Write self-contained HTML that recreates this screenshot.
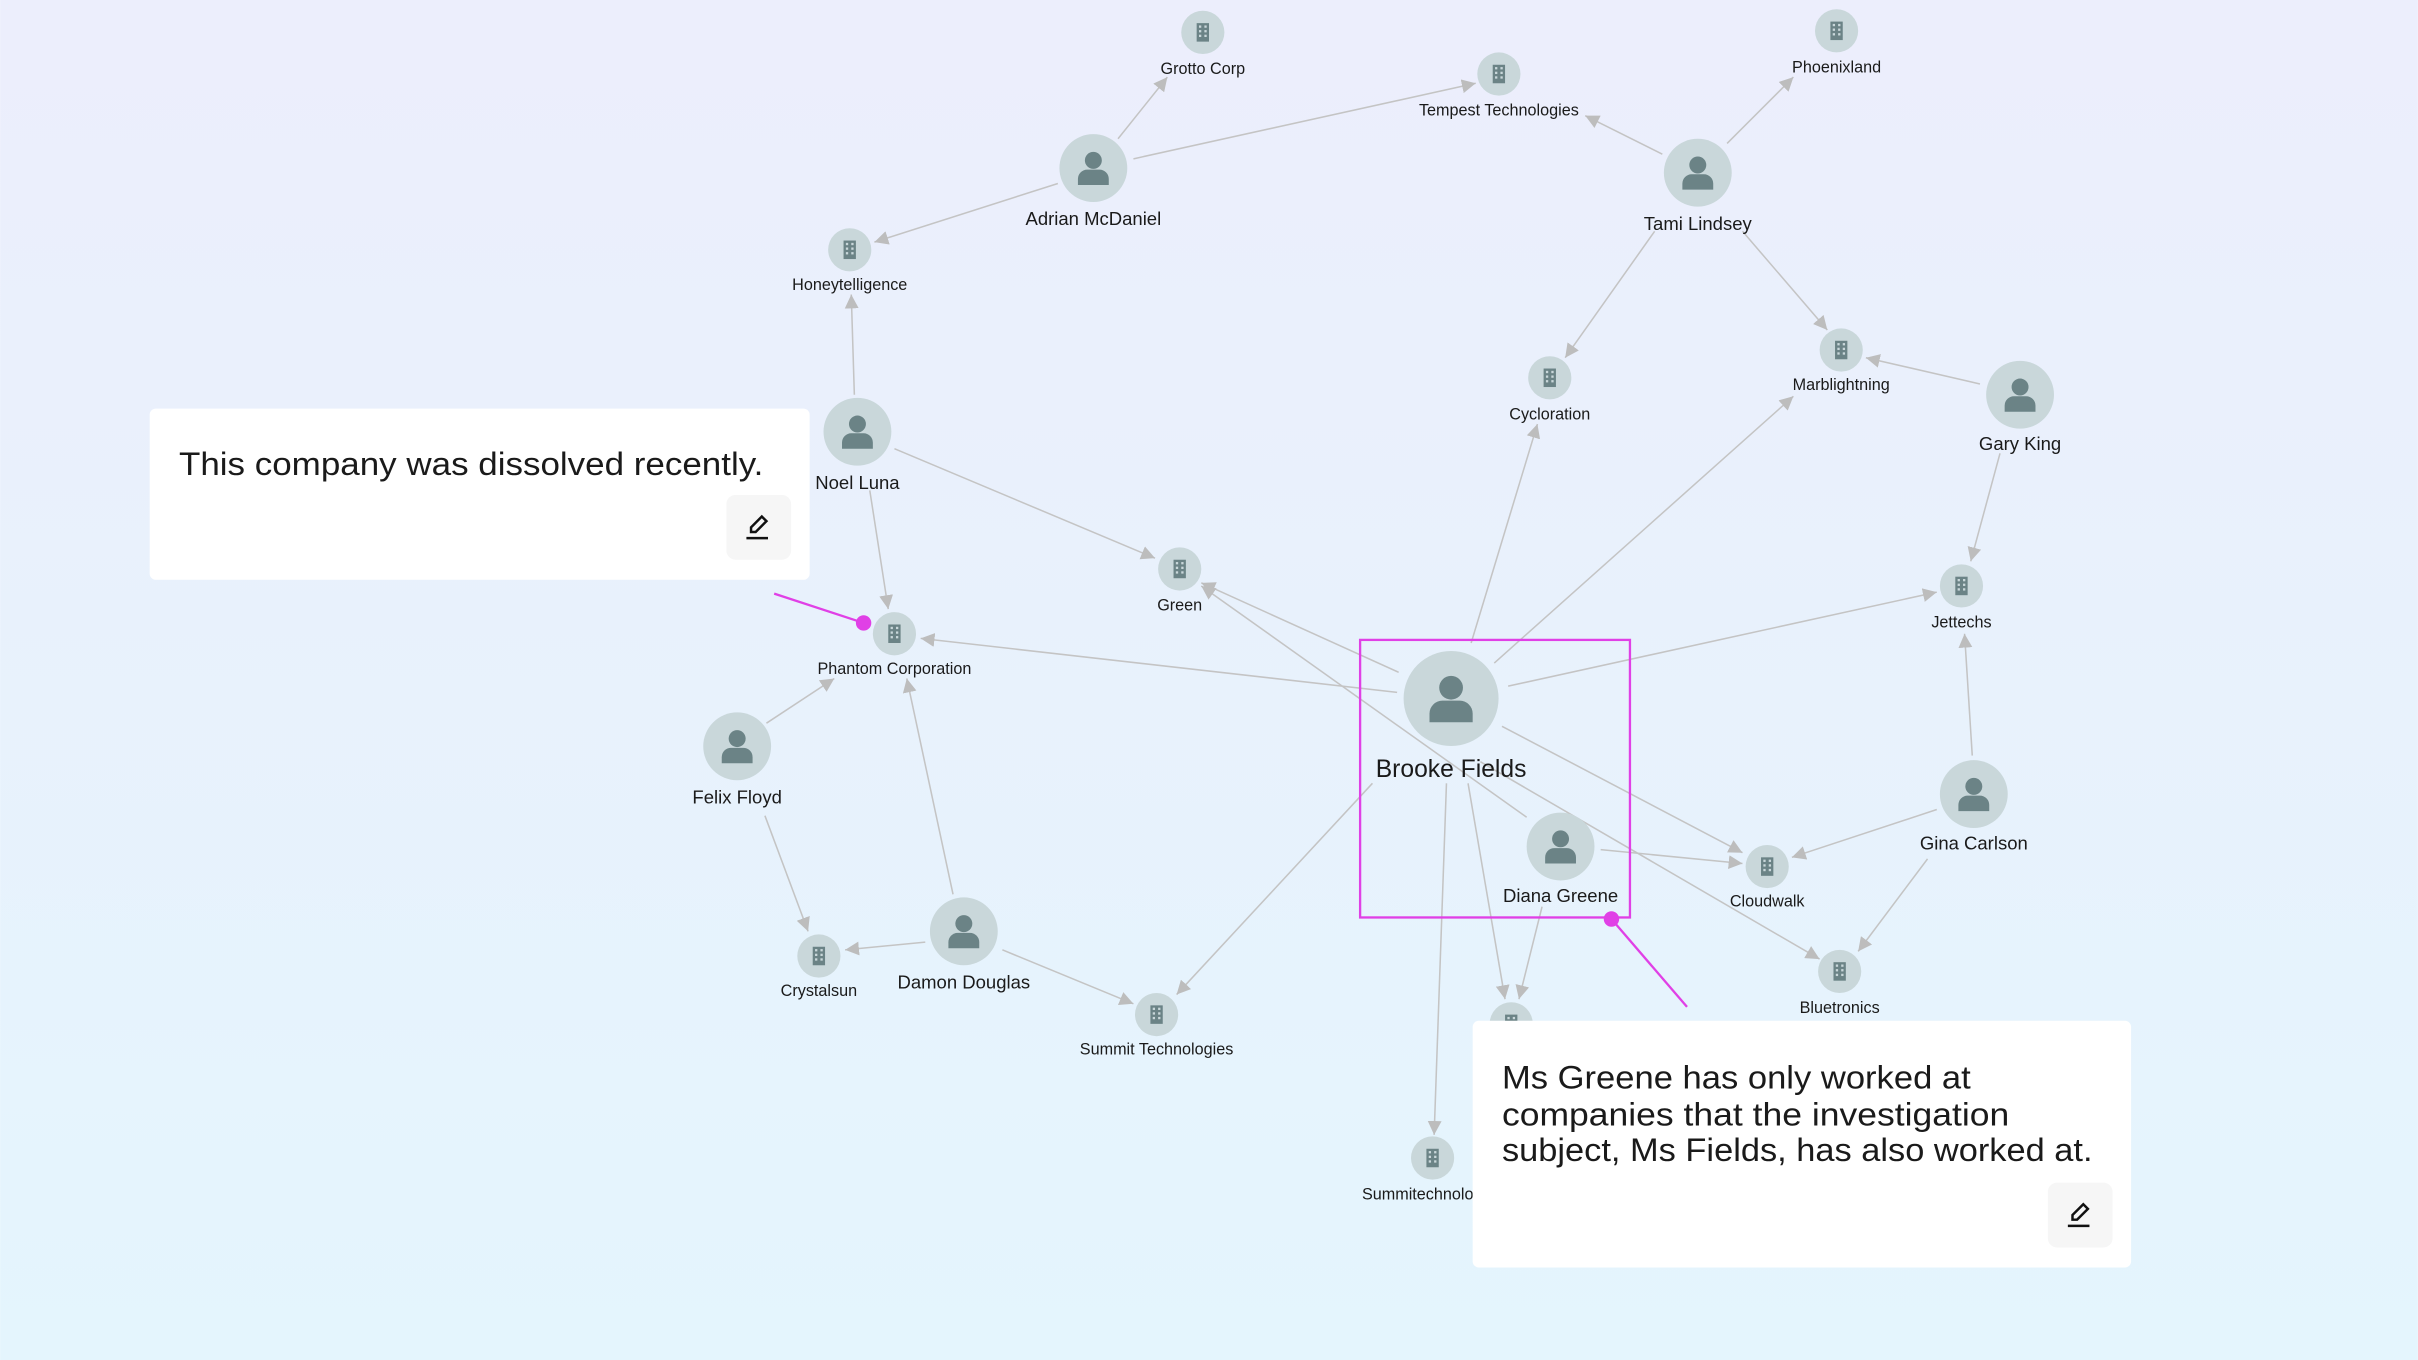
<!DOCTYPE html>
<html><head><meta charset="utf-8"><style>
html,body{margin:0;padding:0;width:2418px;height:1360px;overflow:hidden;}
svg{display:block;}
text{font-family:"Liberation Sans",sans-serif;fill:#1a1a1a;}
</style></head><body>
<svg width="2418" height="1360" viewBox="0 0 1568 882" xmlns="http://www.w3.org/2000/svg">
<defs>
<linearGradient id="bg" x1="0" y1="0" x2="0" y2="1">
<stop offset="0" stop-color="#eceefc"/><stop offset="1" stop-color="#e4f5fd"/>
</linearGradient>
<marker id="a" viewBox="0 0 10 10" refX="10" refY="5" markerWidth="9" markerHeight="9" markerUnits="userSpaceOnUse" orient="auto">
<path d="M0,0 L10,5 L0,10 z" fill="#bdbdbd"/></marker>
<g id="p"><circle r="22" fill="#c9d7da"/><circle cy="-5" r="5.5" fill="#6b8386"/><path d="M-10,11 v-4 a6,6 0 0 1 6,-6 h8 a6,6 0 0 1 6,6 v4 z" fill="#6b8386"/></g>
<g id="c"><circle r="14" fill="#c9d7da"/><rect x="-4" y="-6" width="8" height="12" fill="#6b8386"/><g fill="#c9d7da"><rect x="-2.5" y="-4.5" width="1.5" height="1.5"/><rect x="1" y="-4.5" width="1.5" height="1.5"/><rect x="-2.5" y="-1.5" width="1.5" height="1.5"/><rect x="1" y="-1.5" width="1.5" height="1.5"/><rect x="-2.5" y="1.5" width="1.5" height="1.5"/><rect x="1" y="1.5" width="1.5" height="1.5"/></g></g>
</defs>
<rect width="1568" height="882" fill="url(#bg)"/>
<g stroke="#c4c4c4" stroke-width="1" fill="none" marker-end="url(#a)">
<line x1="725" y1="90" x2="757" y2="50"/>
<line x1="735" y1="103" x2="957" y2="54"/>
<line x1="686" y1="119" x2="567" y2="157"/>
<line x1="1078" y1="100" x2="1028" y2="75"/>
<line x1="1120" y1="93" x2="1163" y2="50"/>
<line x1="1073" y1="150" x2="1015" y2="232"/>
<line x1="1130" y1="150" x2="1185" y2="214"/>
<line x1="1284" y1="249" x2="1210" y2="232"/>
<line x1="1297" y1="294" x2="1278" y2="364"/>
<line x1="554" y1="256" x2="552" y2="191"/>
<line x1="580" y1="291" x2="749" y2="362"/>
<line x1="564" y1="318" x2="576" y2="395"/>
<line x1="906" y1="449" x2="597" y2="414"/>
<line x1="907" y1="436" x2="779" y2="378"/>
<line x1="990" y1="530" x2="779" y2="380"/>
<line x1="954" y1="417" x2="997" y2="275"/>
<line x1="969" y1="430" x2="1163" y2="257"/>
<line x1="978" y1="445" x2="1256" y2="384"/>
<line x1="974" y1="471" x2="1130" y2="553"/>
<line x1="960" y1="494" x2="1180" y2="622"/>
<line x1="890" y1="508" x2="763" y2="645"/>
<line x1="952" y1="508" x2="976" y2="648"/>
<line x1="938" y1="508" x2="930" y2="736"/>
<line x1="1038" y1="551" x2="1130" y2="560"/>
<line x1="1000" y1="588" x2="985" y2="648"/>
<line x1="1256" y1="525" x2="1162" y2="556"/>
<line x1="1250" y1="557" x2="1205" y2="617"/>
<line x1="1279" y1="490" x2="1274" y2="411"/>
<line x1="497" y1="469" x2="541" y2="440"/>
<line x1="496" y1="529" x2="524" y2="604"/>
<line x1="618" y1="580" x2="588" y2="440"/>
<line x1="600" y1="611" x2="548" y2="616"/>
<line x1="650" y1="616" x2="735" y2="651"/>
</g>
<g font-size="10.5" text-anchor="middle">
<use href="#c" x="780" y="21"/><text x="780" y="48">Grotto Corp</text>
<use href="#c" x="972" y="48"/><text x="972" y="75">Tempest Technologies</text>
<use href="#c" x="1191" y="20"/><text x="1191" y="47">Phoenixland</text>
<use href="#c" x="551" y="162"/><text x="551" y="188">Honeytelligence</text>
<use href="#c" x="1005" y="245"/><text x="1005" y="272">Cycloration</text>
<use href="#c" x="1194" y="227"/><text x="1194" y="253">Marblightning</text>
<use href="#c" x="765" y="369"/><text x="765" y="396">Green</text>
<use href="#c" x="1272" y="380"/><text x="1272" y="407">Jettechs</text>
<use href="#c" x="580" y="411"/><text x="580" y="437">Phantom Corporation</text>
<use href="#c" x="1146" y="562"/><text x="1146" y="588">Cloudwalk</text>
<use href="#c" x="531" y="620"/><text x="531" y="646">Crystalsun</text>
<use href="#c" x="1193" y="630"/><text x="1193" y="657">Bluetronics</text>
<use href="#c" x="750" y="658"/><text x="750" y="684">Summit Technologies</text>
<use href="#c" x="980" y="664"/>
<use href="#c" x="929" y="751"/><text x="929" y="778">Summitechnologies</text>
</g>
<g font-size="12" text-anchor="middle">
<use href="#p" x="709" y="109"/><text x="709" y="146">Adrian McDaniel</text>
<use href="#p" x="1101" y="112"/><text x="1101" y="149">Tami Lindsey</text>
<use href="#p" x="1310" y="256"/><text x="1310" y="292">Gary King</text>
<use href="#p" x="556" y="280"/><text x="556" y="317">Noel Luna</text>
<use href="#p" x="478" y="484"/><text x="478" y="521">Felix Floyd</text>
<use href="#p" x="1280" y="515"/><text x="1280" y="551">Gina Carlson</text>
<use href="#p" x="1012" y="549"/><text x="1012" y="585">Diana Greene</text>
<use href="#p" x="625" y="604"/><text x="625" y="641">Damon Douglas</text>
<g transform="translate(941,453) scale(1.4)"><use href="#p"/></g>
<text x="941" y="504" font-size="16">Brooke Fields</text>
</g>
<rect x="882" y="415" width="175" height="180" fill="none" stroke="#e040e6" stroke-width="1.5"/>
<line x1="1045" y1="596" x2="1094" y2="653" stroke="#e040e6" stroke-width="1.5"/>
<circle cx="1045" cy="596" r="5" fill="#e040e6"/>
<line x1="502" y1="385" x2="560" y2="404" stroke="#e040e6" stroke-width="1.5"/>
<circle cx="560" cy="404" r="5" fill="#e040e6"/>
<rect x="97" y="265" width="428" height="111" rx="4" fill="#fff"/>
<text x="116" y="308" font-size="21" textLength="379" lengthAdjust="spacingAndGlyphs">This company was dissolved recently.</text>
<rect x="471" y="321" width="42" height="42" rx="6" fill="#f6f6f6"/>
<g transform="translate(491,342)" stroke="#111" stroke-width="1.6" fill="none"><path d="M-4,3 L-4,0 L3,-7 L6,-4 L-1,3 z"/><line x1="-7" y1="7" x2="7" y2="7"/></g>
<rect x="955" y="662" width="427" height="160" rx="4" fill="#fff"/>
<g font-size="21"><text x="974" y="706" textLength="304" lengthAdjust="spacingAndGlyphs">Ms Greene has only worked at</text><text x="974" y="730" textLength="329" lengthAdjust="spacingAndGlyphs">companies that the investigation</text><text x="974" y="753" textLength="383" lengthAdjust="spacingAndGlyphs">subject, Ms Fields, has also worked at.</text></g>
<rect x="1328" y="767" width="42" height="42" rx="6" fill="#f6f6f6"/>
<g transform="translate(1348,788)" stroke="#111" stroke-width="1.6" fill="none"><path d="M-4,3 L-4,0 L3,-7 L6,-4 L-1,3 z"/><line x1="-7" y1="7" x2="7" y2="7"/></g>
</svg>
</body></html>
